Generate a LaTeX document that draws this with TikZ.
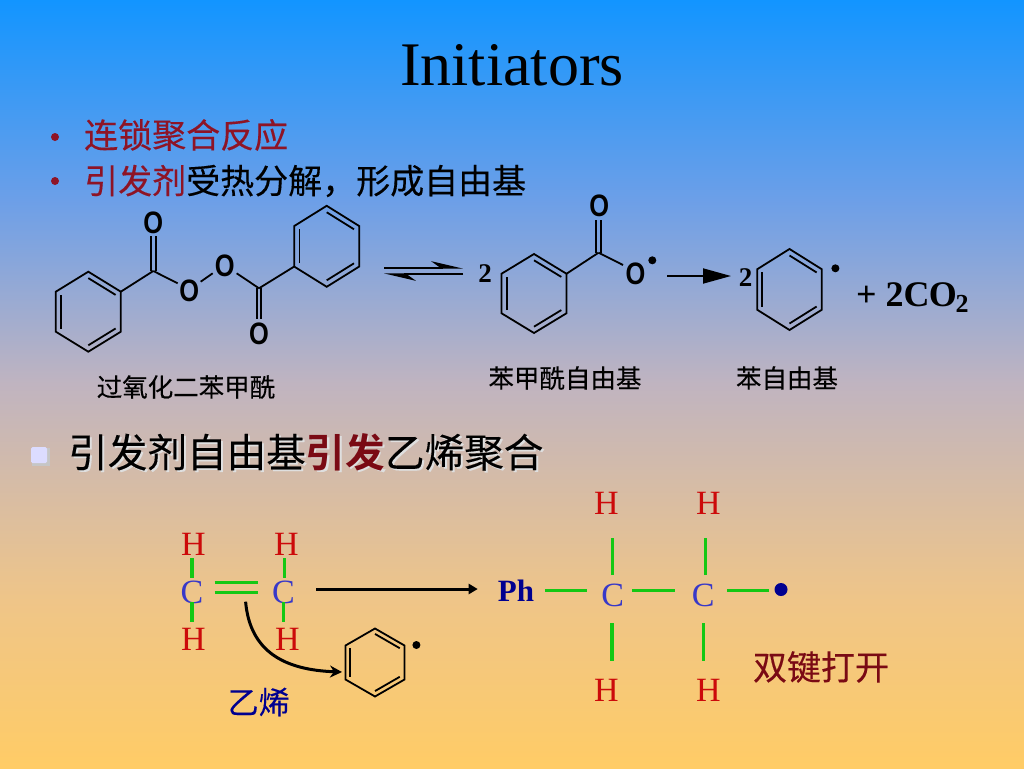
\documentclass[tikz,border=0pt]{standalone}
\usepackage{fontspec}
\usetikzlibrary{arrows.meta}
\setmainfont{Liberation Serif}
\newfontfamily\cjk[FakeBold=0.25]{Noto Sans CJK SC}
\newfontfamily\cjkb{Noto Sans CJK SC Bold}
\newfontfamily\atomfont{Liberation Sans}
\definecolor{bgA}{HTML}{1295FF}
\definecolor{bgB}{HTML}{6C9FE8}
\definecolor{bgC}{HTML}{C0B4C0}
\definecolor{bgD}{HTML}{EFC588}
\definecolor{bgE}{HTML}{FFCC66}
\definecolor{wine}{HTML}{8E1426}
\definecolor{darkwine}{HTML}{7A0A14}
\definecolor{hred}{HTML}{CC0A0A}
\definecolor{cblue}{HTML}{3838C8}
\definecolor{navy}{HTML}{000090}
\definecolor{bondgreen}{HTML}{14C814}
\definecolor{lav}{HTML}{DCDCFF}
\pgfdeclareverticalshading{slidebg}{100bp}{color(0bp)=(bgE); color(25bp)=(bgE); color(35.9bp)=(bgD); color(50bp)=(bgC); color(62bp)=(bgB); color(75bp)=(bgA); color(100bp)=(bgA)}
\newcommand{\fs}[1]{\fontsize{#1}{#1}\selectfont}
\newcommand{\oxy}{\scalebox{.82}[1]{O}}
\newcommand{\benzring}[5]{%
  \coordinate (#1-1) at ({#2},{#3-#5});
  \coordinate (#1-2) at ({#2+#4},{#3-#5/2});
  \coordinate (#1-3) at ({#2+#4},{#3+#5/2});
  \coordinate (#1-4) at ({#2},{#3+#5});
  \coordinate (#1-5) at ({#2-#4},{#3+#5/2});
  \coordinate (#1-6) at ({#2-#4},{#3-#5/2});
  \draw[ringline] (#1-1)--(#1-2)--(#1-3)--(#1-4)--(#1-5)--(#1-6)--cycle;
  \draw[ringline] ({#2},{#3-.84*#5})--({#2+.84*#4},{#3-.84*#5/2});
  \draw[ringline] ({#2+.84*#4},{#3+.84*#5/2})--({#2},{#3+.84*#5});
  \draw[ringline] ({#2-.84*#4},{#3+.84*#5/2})--({#2-.84*#4},{#3-.84*#5/2});
}
\tikzset{
  ringline/.style={draw=black,line width=1.8pt,line join=miter},
  atom/.style={inner sep=0pt,font=\atomfont\bfseries\fs{31},text=black},
  hatom/.style={inner sep=0pt,font=\fs{34},text=hred},
  catom/.style={inner sep=0pt,font=\fs{34},text=cblue},
  gbond/.style={draw=bondgreen,line width=3.2pt},
  cjktxt/.style={inner sep=0pt,font=\cjk\fs{34}},
  caption/.style={inner sep=0pt,font=\cjk\fs{25.5},text=black},
  radical/.style={circle,fill=black,inner sep=0pt,minimum size=8pt},
  coef/.style={inner sep=0pt,font=\bfseries\fs{27},text=black},
}
\begin{document}
\begin{tikzpicture}[x=1pt,y=-1pt]
\useasboundingbox (0,0) rectangle (1024,768);
\shade[shading=slidebg] (0,0) rectangle (1024,768);
% title
\node[inner sep=0pt,font=\fs{62},text=black] (title) at (512,65) {Initiators};
% bullets
\node[circle,fill=wine,inner sep=0pt,minimum size=8pt] (b1) at (55,137) {};
\node[circle,fill=wine,inner sep=0pt,minimum size=8pt] (b2) at (55,181) {};
\node[cjktxt,anchor=west,text=wine] (l1) at (84,135) {连锁聚合反应};
\node[cjktxt,anchor=west,text=black] (l2) at (84,181) {\textcolor{wine}{引发剂}受热分解，形成自由基};
% ring structures
\benzring{ra}{88.3}{311.7}{32.5}{40}
\benzring{rb}{326.7}{246.3}{32.5}{40.5}
\benzring{rc}{534}{293.5}{32.5}{39.5}
\benzring{rd}{789.5}{289.5}{32.3}{40.5}
\benzring{re}{375}{662.5}{29.5}{34}
% peroxide
\coordinate (c1) at (153.3,271);
\coordinate (c2) at (259,288.3);
\node[atom] (o1) at (153.3,222.7) {\oxy};
\node[atom] (o2) at (189.3,291) {\oxy};
\node[atom] (o3) at (224.7,265.7) {\oxy};
\node[atom] (o4) at (259,334.3) {\oxy};
\draw[ringline] (ra-2) -- (c1);
\draw[ringline] (rb-5) -- (c2);
\draw[ringline] (c1) -- ++(24.4,12.3);
\draw[ringline] (c1) ++(-2.3,0) -- ++(0,-35);
\draw[ringline] (c1) ++(2.3,0) -- ++(0,-35);
\draw[ringline] (o2) ++(11.4,-9.3) -- ++(12,-8.4);
\draw[ringline] (o3) ++(12,7.6) -- (c2);
\draw[ringline] (c2) ++(-2.3,0) -- ++(0,31);
\draw[ringline] (c2) ++(2.3,0) -- ++(0,31);
% equilibrium
\coordinate (eqa) at (384,267.7);
\coordinate (eqb) at (463,267.7);
\coordinate (eqc) at (463,274.3);
\coordinate (eqd) at (384,274.3);
\draw[line width=1.8pt,-{Stealth[length=28pt,width=13pt,left]}] (eqa) -- (eqb);
\draw[line width=1.8pt,-{Stealth[length=28pt,width=13pt,left]}] (eqc) -- (eqd);
\node[coef] (n2a) at (485,274) {2};
% benzoyloxy radical
\coordinate (c3) at (598.5,252.7);
\node[atom] (o5) at (599.2,206) {\oxy};
\node[atom] (o6) at (635.6,274) {\oxy};
\node[radical] (d1) at (652.3,260.3) {};
\draw[ringline] (rc-2) -- (c3);
\draw[ringline] (c3) -- (623,265);
\draw[ringline] (c3) ++(-2.3,0) -- ++(0,-33);
\draw[ringline] (c3) ++(2.3,0) -- ++(0,-33);
% arrow
\coordinate (ara) at (667.2,276);
\coordinate (arb) at (731,276);
\draw[line width=1.8pt,-{Triangle[length=28pt,width=15pt]}] (ara) -- (arb);
\node[coef] (n2b) at (745.5,278) {2};
\node[radical] (d2) at (835.4,268.3) {};
\node[inner sep=0pt,anchor=west,font=\bfseries\fs{36},text=black] (co2) at (856,298) {+ 2C\kern-1pt O\kern-1pt\raisebox{-6pt}{\fs{26}2}};
% captions
\node[caption] (cap1) at (186,387) {过氧化二苯甲酰};
\node[caption] (cap2) at (565,378) {苯甲酰自由基};
\node[caption] (cap3) at (787,378) {苯自由基};
% third bullet
\fill[gray!45] (32,448) rectangle (50,466);
\node[draw=none,fill=lav,rounded corners=1.5pt,minimum size=16pt,inner sep=0pt] (b3) at (39,455) {};
\node[inner sep=0pt,anchor=west,font=\cjk\fs{39.6},text=white!75!gray] (l3s) at (70,454) {引发剂自由基引发乙烯聚合};
\node[inner sep=0pt,anchor=west,font=\cjk\fs{39.6},text=black] (l3) at (68,452) {引发剂自由基\textcolor{darkwine}{\cjkb 引发}乙烯聚合};
% ethylene
\node[hatom] (h1) at (193.5,544) {H};
\node[hatom] (h2) at (286.5,544) {H};
\node[hatom] (h3) at (193.5,639) {H};
\node[hatom] (h4) at (287.5,639) {H};
\node[catom] (c5) at (192,592) {C};
\node[catom] (c6) at (283.5,592) {C};
\draw[gbond] (h1.south -| c5) ++(0,3) -- ++(0,20);
\draw[gbond] (h2.south -| c6) ++(1,3) -- ++(0,20);
\draw[gbond] (h3.north -| c5) ++(0,-6) -- ++(0,-20);
\draw[gbond] (h4.north -| c6) ++(0,-6) -- ++(0,-20);
\draw[gbond] (c5.east) ++(11,-9.7) -- ++(43,0);
\draw[gbond] (c5.east) ++(11,0.7) -- ++(43,0);
\coordinate (curvea) at (245.6,601.7);
\coordinate (curveb) at (342,672);
\draw[line width=3pt,-{Stealth[length=12pt,width=12pt]}] (curvea) .. controls (250,652) and (285,670) .. (curveb);
\node[radical] (d3) at (416.4,645) {};
\node[inner sep=0pt,font=\cjk\fs{31},text=navy] (yixi) at (258.7,702) {乙烯};
% main reaction arrow
\node[inner sep=0pt,font=\bfseries\fs{31},text=navy] (ph) at (516,591) {Ph};
\coordinate (mainstart) at (316,589);
\draw[line width=3pt,-{Triangle[length=9pt,width=10pt]},shorten >=20pt] (mainstart) -- (mainstart -| ph.west);
% product
\node[hatom] (h5) at (606.5,503) {H};
\node[hatom] (h6) at (708.5,503) {H};
\node[hatom] (h7) at (606.5,690) {H};
\node[hatom] (h8) at (708.5,690) {H};
\node[catom] (c7) at (612.7,595) {C};
\node[catom] (c8) at (703.3,595) {C};
\node[circle,fill=navy,inner sep=0pt,minimum size=13pt] (dot) at (781,589.5) {};
\draw[gbond] (ph.east) ++(10.5,-0.3) -- ++(42.3,0);
\draw[gbond] (c7.east) ++(8,-4.3) -- ++(42.3,0);
\draw[gbond] (c8.east) ++(12.5,-4.3) -- ++(42,0);
\draw[gbond] (c7.north) ++(0,-8.3) -- ++(0,-36.7);
\draw[gbond] (c8.north) ++(2,-8.3) -- ++(0,-36.7);
\draw[gbond] (c7.south) ++(-0.7,16.7) -- ++(0,37.3);
\draw[gbond] (c8.south) ++(0.4,16.7) -- ++(0,37.3);
\node[inner sep=0pt,font=\cjk\fs{34},text=darkwine] (open) at (821,667) {双键打开};
\end{tikzpicture}
\end{document}
